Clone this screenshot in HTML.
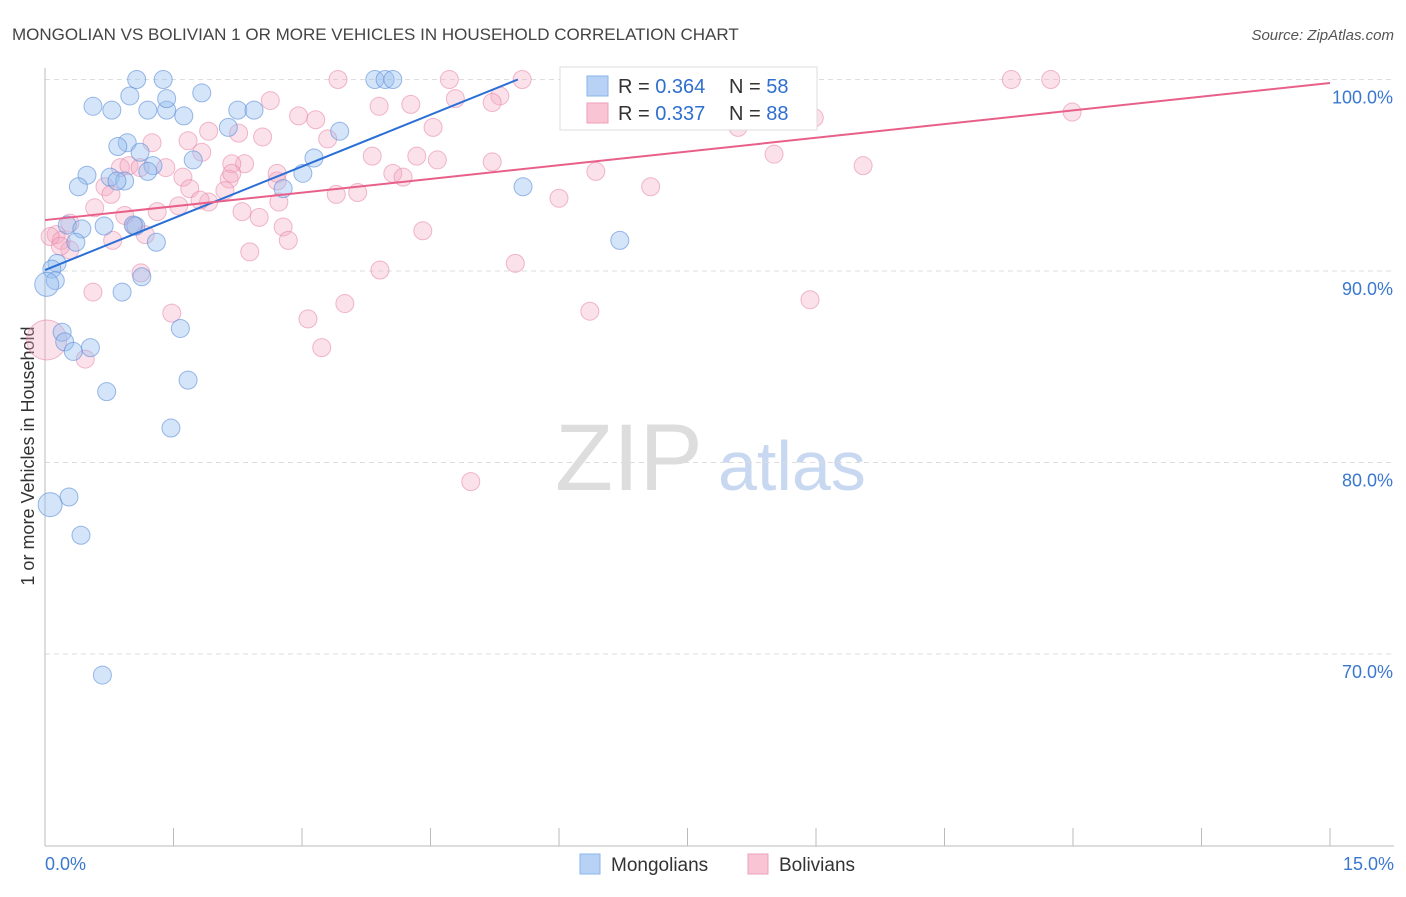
<!DOCTYPE html>
<html><head><meta charset="utf-8"><style>
body{margin:0;background:#fff;font-family:"Liberation Sans",sans-serif;}
svg text{font-family:"Liberation Sans",sans-serif;}
</style></head><body>
<svg id="chart" width="1406" height="892" xmlns="http://www.w3.org/2000/svg">
<text x="12" y="40" font-size="17" fill="#444">MONGOLIAN VS BOLIVIAN 1 OR MORE VEHICLES IN HOUSEHOLD CORRELATION CHART</text>
<text x="1394" y="40" font-size="15" fill="#555" font-style="italic" text-anchor="end">Source: ZipAtlas.com</text>
<text x="0" y="0" transform="translate(34,456) rotate(-90)" font-size="18" fill="#333" text-anchor="middle">1 or more Vehicles in Household</text>
<text x="555" y="490" font-size="95" fill="#ddd" font-family="Liberation Serif">ZIP</text>
<text x="718" y="490" font-size="70" fill="#c8d8f0">atlas</text>
<g id="grid"></g><g id="ticks"></g><g id="pts"></g><g id="lines"></g>
<g>
<rect x="560" y="67" width="257" height="63" fill="#fff" stroke="#ddd"/>
<rect x="587" y="76" width="21" height="20" fill="#b7d2f5" stroke="#8ab4ea"/>
<text x="618" y="93" font-size="20" fill="#333">R = <tspan fill="#2f6fcf">0.364</tspan></text>
<text x="729" y="93" font-size="20" fill="#333">N = <tspan fill="#2f6fcf">58</tspan></text>
<rect x="587" y="103" width="21" height="20" fill="#f9c4d3" stroke="#ee9fb8"/>
<text x="618" y="120" font-size="20" fill="#333">R = <tspan fill="#2f6fcf">0.337</tspan></text>
<text x="729" y="120" font-size="20" fill="#333">N = <tspan fill="#2f6fcf">88</tspan></text>
</g>
<g>
<rect x="580" y="854" width="20" height="20" fill="#b7d2f5" stroke="#8ab4ea"/>
<text x="611" y="871" font-size="19" fill="#333">Mongolians</text>
<rect x="748" y="854" width="20" height="20" fill="#f9c4d3" stroke="#ee9fb8"/>
<text x="779" y="871" font-size="19" fill="#333">Bolivians</text>
</g>
</svg>
<script>
const yTicks=[100,90,80,70];
const xTickLabels=["0.0%","15.0%"];
const monX=[1.07,1.38,3.85,3.97,4.06,0.99,1.83,0.56,0.78,1.20,1.42,1.62,1.42,2.25,2.44,2.14,3.44,0.96,0.85,1.11,1.73,1.26,1.20,0.49,0.76,0.93,0.84,0.39,2.78,3.01,3.14,5.58,0.26,0.43,0.69,1.06,0.36,1.30,0.14,0.08,0.12,0.02,1.13,0.90,6.71,1.58,0.20,0.23,0.53,0.33,0.72,1.67,1.47,0.28,0.06,0.42,0.67,1.03];
const monY=[100,100,100,100,100,99.14,99.3,98.6,98.4,98.4,98.4,98.1,99.0,98.4,98.4,97.5,97.3,96.7,96.5,96.2,95.8,95.5,95.2,95.0,94.9,94.7,94.7,94.4,94.3,95.1,95.9,94.4,92.4,92.2,92.35,92.35,91.5,91.5,90.4,90.1,89.5,89.3,89.7,88.9,91.6,87.0,86.8,86.3,86.0,85.8,83.7,84.3,81.8,78.2,77.8,76.2,68.9,92.4];
const bolX=[3.42,4.72,5.57,11.28,11.74,5.31,2.63,3.90,4.27,4.79,5.22,2.96,3.16,11.99,8.09,8.98,4.53,1.91,1.67,2.54,2.26,3.30,1.25,1.83,2.33,2.18,0.88,0.98,1.41,3.82,4.34,4.58,5.22,6.43,8.51,9.55,1.61,2.15,4.06,4.18,2.71,0.70,1.69,7.07,0.77,1.91,1.81,3.40,3.65,6.00,2.73,0.58,0.93,1.31,1.56,2.30,2.50,1.04,0.29,2.78,4.41,1.17,0.13,0.79,0.19,2.84,0.29,2.39,5.49,1.12,3.91,0.56,3.50,6.36,8.93,1.48,3.07,3.23,0.02,0.47,4.97,7.34,0.06,0.18,2.18,2.10,1.11,2.71];
const bolY=[100,100,100,100,100,99.14,98.9,98.6,98.7,99.0,98.8,98.1,97.9,98.3,97.5,98.0,97.5,97.3,96.8,97.0,97.2,96.9,96.7,96.2,95.6,95.6,95.4,95.5,95.4,96.0,96.0,95.8,95.7,95.2,96.1,95.5,94.9,94.8,95.1,94.9,94.7,94.4,94.3,94.4,94.0,93.6,93.7,94.0,94.1,93.8,93.6,93.3,92.9,93.1,93.4,93.1,92.8,92.35,92.5,92.3,92.1,91.9,91.9,91.6,91.6,91.6,91.1,91.0,90.4,89.9,90.05,88.9,88.3,87.9,88.5,87.8,87.5,86.0,86.4,85.4,79.0,100,91.8,91.3,95.1,94.2,95.4,95.1];
const monTrend=[0,90.05,5.52,100];
const bolTrend=[0,92.66,15,99.82];
const X0=45,X1=1330,Y100=79.5,PER=19.15;
function sx(v){return X0+(X1-X0)*v/15;}
function sy(v){return Y100+(100-v)*PER;}
const NS="http://www.w3.org/2000/svg";
function mk(tag,attrs,parent){const e=document.createElementNS(NS,tag);for(const k in attrs)e.setAttribute(k,attrs[k]);document.getElementById(parent).appendChild(e);return e;}
yTicks.forEach(t=>{
 const l=mk('line',{x1:45,x2:1394,y1:sy(t),y2:sy(t),stroke:'#ddd','stroke-dasharray':'5,4'},'grid');
 
 
 const tx=mk('text',{x:1393,y:sy(t)+24,'font-size':18,fill:'#3a78d0','text-anchor':'end'},'grid');
 tx.textContent=t.toFixed(1)+'%';
 
 
});
const ax=mk('line',{x1:45,x2:45,y1:68,y2:846,stroke:'#bbb'},'ticks');


const bx=mk('line',{x1:45,x2:1394,y1:846,y2:846,stroke:'#bbb'},'ticks');


for(let i=0;i<=10;i++){
 const t=mk('line',{x1:sx(i*1.5),x2:sx(i*1.5),y1:828,y2:846,stroke:'#bbb'},'ticks');
 
 
}
const xl0=mk('text',{x:45,y:870,'font-size':18,fill:'#3a78d0'},'ticks');
xl0.textContent=xTickLabels[0];


const xl1=mk('text',{x:1394,y:870,'font-size':18,fill:'#3a78d0','text-anchor':'end'},'ticks');
xl1.textContent=xTickLabels[1];


bolX.forEach((v,i)=>{
 const r=(i==78)?20:9;
 const c=mk('circle',{cx:sx(v),cy:sy(bolY[i]),r:r,fill:'rgba(244,170,195,0.35)',stroke:'rgba(230,130,165,0.55)','stroke-width':1},'pts');
 
 
});
monX.forEach((v,i)=>{
 const r=(i==41||i==54)?12:9;
 const c=mk('circle',{cx:sx(v),cy:sy(monY[i]),r:r,fill:'rgba(150,190,240,0.4)',stroke:'rgba(90,140,215,0.6)','stroke-width':1},'pts');
 
 
});
const lm=mk('line',{x1:sx(monTrend[0]),y1:sy(monTrend[1]),x2:sx(monTrend[2]),y2:sy(monTrend[3]),stroke:'#2a6fd6','stroke-width':2},'lines');


const lb=mk('line',{x1:sx(bolTrend[0]),y1:sy(bolTrend[1]),x2:sx(bolTrend[2]),y2:sy(bolTrend[3]),stroke:'#e8608a','stroke-width':2},'lines');


</script>
</body></html>
